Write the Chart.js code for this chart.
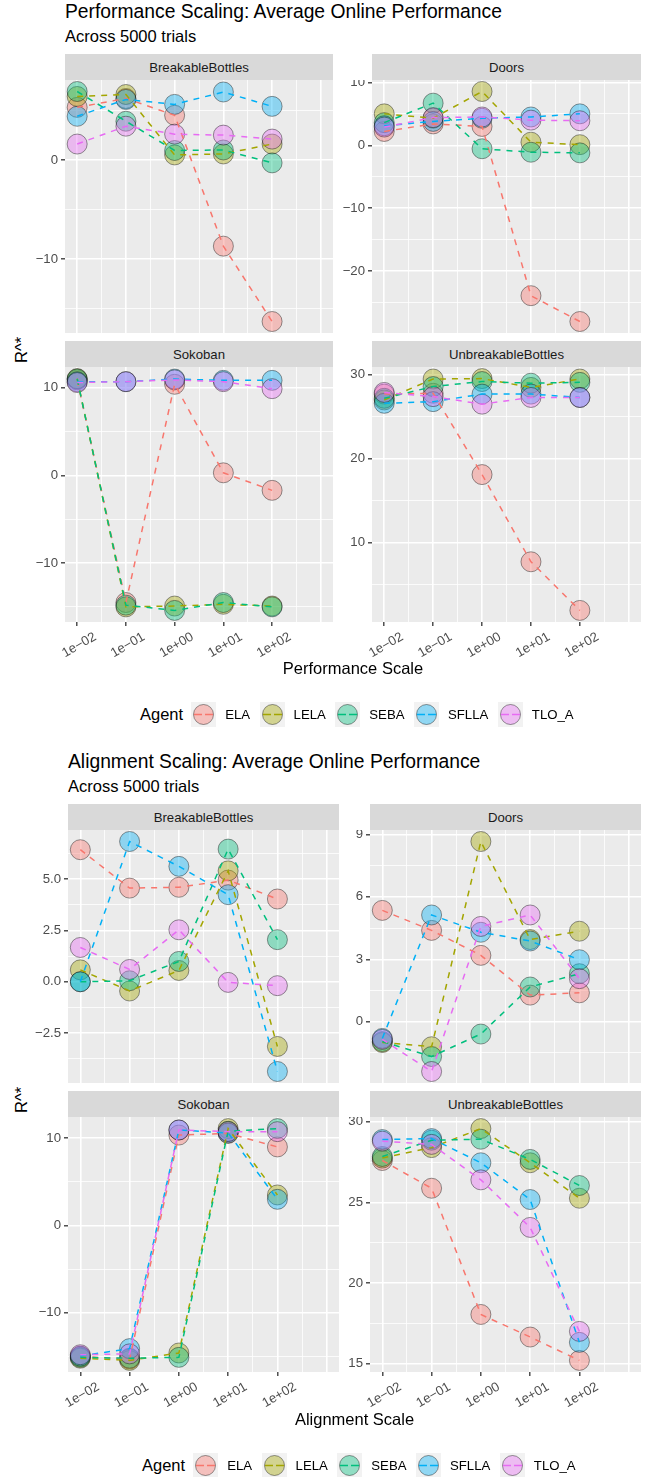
<!DOCTYPE html>
<html>
<head>
<meta charset="utf-8">
<script src="https://cdn.jsdelivr.net/npm/chart.js@4.4.0/dist/chart.umd.min.js"></script>
<style>
  html, body { margin: 0; padding: 0; background: #ffffff; }
  #page { position: relative; width: 649px; height: 1477px; overflow: hidden;
          font-family: "Liberation Sans", Arial, Helvetica, sans-serif; color: #000; }
  .abs { position: absolute; white-space: nowrap; }
  .title { font-size: 19.3px; line-height: 1; }
  .subtitle { font-size: 16.5px; line-height: 1; }
  .strip { background: #D9D9D9; color: #1A1A1A; font-size: 13.2px;
           display: flex; align-items: center; justify-content: center; }
  .axis-title { font-size: 16.5px; line-height: 1; }
  .legend { display: flex; align-items: center; height: 26px; }
  .legend .lt { font-size: 16.5px; margin-right: 8px; }
  .legend .lk { width: 25px; height: 25px; margin-right: 9px; display: block; }
  .legend .ll { font-size: 13.2px; margin-right: 9.5px; }
  canvas { position: absolute; }
</style>
</head>
<body>
<div id="page"></div>
<script>
// ---- data -------------------------------------------------------------
const agents = ['ELA', 'LELA', 'SEBA', 'SFLLA', 'TLO_A'];
const environments = ['BreakableBottles', 'Doors', 'Sokoban', 'UnbreakableBottles'];
const scaleValues = [0.01, 0.1, 1, 10, 100];
const xBreaks = [0.01, 0.1, 1, 10, 100, 1000];
const xBreakLabels = ['1e\u221202', '1e\u221201', '1e+00', '1e+01', '1e+02', ''];

// Performance scaling, one row per agent (same order as `agents`)
const perfBreakableBottles = [
  [5.3, 6.2, 4.5, -8.7, -16.3],
  [6.4, 6.6, 0.5, 0.6, 1.6],
  [6.9, 3.9, 0.95, 1.0, -0.3],
  [4.4, 6.1, 5.6, 6.85, 5.4],
  [1.6, 3.4, 2.6, 2.5, 2.1]
];
const perfDoors = [
  [2.2, 3.4, 3.0, -23.9, -28.0],
  [5.0, 4.3, 8.55, 0.5, 0.1],
  [3.6, 6.7, -0.55, -1.1, -1.2],
  [3.1, 3.8, 4.3, 4.5, 5.0],
  [2.9, 4.4, 4.5, 4.0, 3.9]
];
const perfSokoban = [
  [10.9, -14.5, 10.4, 0.3, -1.7],
  [11.05, -15.0, -14.9, -14.7, -14.9],
  [11.0, -14.8, -15.4, -14.5, -15.0],
  [10.7, 10.7, 11.0, 10.85, 10.85],
  [10.6, 10.7, 10.9, 10.7, 9.9]
];
const perfUnbreakableBottles = [
  [27.7, 27.8, 18.1, 7.7, 1.9],
  [27.0, 29.5, 29.55, 28.5, 29.5],
  [27.2, 28.6, 29.2, 29.0, 29.1],
  [26.6, 26.8, 27.7, 27.7, 27.3],
  [27.9, 27.4, 26.5, 27.3, 27.3]
];

// Alignment scaling
const alignBreakableBottles = [
  [6.43, 4.56, 4.6, 4.95, 4.03],
  [0.58, -0.45, 0.55, 5.4, -3.15],
  [0.0, 0.05, 0.99, 6.46, 2.05],
  [0.0, 6.83, 5.62, 4.24, -4.37],
  [1.67, 0.6, 2.53, -0.03, -0.19]
];
const alignDoors = [
  [5.35, 4.39, 3.19, 1.28, 1.39],
  [-1.0, -1.2, 8.66, 3.95, 4.35],
  [-0.95, -1.67, -0.59, 1.67, 2.31],
  [-0.8, 5.13, 4.3, 3.88, 2.98],
  [-0.85, -2.39, 4.58, 5.13, 2.07]
];
const alignSokoban = [
  [-15.0, -15.3, 10.36, 10.55, 9.0],
  [-15.2, -15.45, -14.6, 11.1, 3.5],
  [-15.1, -15.2, -15.1, 10.8, 11.1],
  [-14.95, -14.1, 10.94, 10.6, 3.0],
  [-14.8, -14.7, 10.94, 10.75, 10.75]
];
const alignUnbreakableBottles = [
  [27.6, 25.88, 18.05, 16.65, 15.2],
  [27.75, 28.4, 29.58, 27.46, 25.26],
  [27.85, 28.86, 28.92, 27.67, 26.05],
  [28.9, 28.96, 27.46, 25.18, 16.32],
  [28.8, 28.6, 26.4, 23.45, 17.0]
];

// y-axis breaks and their labels, per panel
const perfYBreaks = [[-10, 0], [-20, -10, 0, 10], [-10, 0, 10], [10, 20, 30]];
const perfYLabels = [['\u221210', '0'], ['\u221220', '\u221210', '0', '10'], ['\u221210', '0', '10'], ['10', '20', '30']];
const alignYBreaks = [[-2.5, 0, 2.5, 5], [0, 3, 6, 9], [-10, 0, 10], [15, 20, 25, 30]];
const alignYLabels = [['\u22122.5', '0.0', '2.5', '5.0'], ['0', '3', '6', '9'], ['\u221210', '0', '10'], ['15', '20', '25', '30']];

// ---- styling ----------------------------------------------------------
const agentColors = ['#F8766D', '#A3A500', '#00BF7D', '#00B0F6', '#E76BF3'];
const FONT = '"Liberation Sans", Arial, Helvetica, sans-serif';
const AXW = 46;   // room left of each panel for y tick labels
const XAH = 52;   // room under bottom-row panels for x tick labels

function hexA(hex, a) {
  const n = parseInt(hex.slice(1), 16);
  return `rgba(${(n >> 16) & 255},${(n >> 8) & 255},${n & 255},${a})`;
}

const page = document.getElementById('page');

function addDiv(cls, text, css) {
  const d = document.createElement('div');
  d.className = 'abs ' + cls;
  if (text !== null) d.textContent = text;
  Object.assign(d.style, css);
  page.appendChild(d);
  return d;
}

const panelBackground = {
  id: 'panelBackground',
  beforeDraw(chart) {
    const { ctx, chartArea: a } = chart;
    ctx.save();
    ctx.fillStyle = '#EBEBEB';
    ctx.fillRect(a.left, a.top, a.right - a.left, a.bottom - a.top);
    ctx.restore();
  }
};

const lg = Math.log10;
const xLo = lg(xBreaks[0]), xHi = lg(xBreaks[xBreaks.length - 1]);
const xMin = Math.pow(10, xLo - 0.05 * (xHi - xLo));
const xMax = Math.pow(10, xHi + 0.05 * (xHi - xLo));

function xBreakIndex(v) {
  return xBreaks.findIndex(b => Math.abs(lg(b) - lg(v)) < 1e-6);
}
function xTickList() {
  const out = [];
  for (let i = 0; i < xBreaks.length; i++) {
    out.push(xBreaks[i]);
    if (i < xBreaks.length - 1) out.push(Math.pow(10, (lg(xBreaks[i]) + lg(xBreaks[i + 1])) / 2));
  }
  return out.filter(v => v >= xMin && v <= xMax).map(v => ({ value: v }));
}

function yTickList(breaks, lo, hi) {
  const step = breaks.length > 1 ? breaks[1] - breaks[0] : 10;
  const out = [];
  for (let v = breaks[0] - step; v <= breaks[breaks.length - 1] + step + 1e-9; v += step / 2) {
    const r = Math.round(v * 1e6) / 1e6;
    if (r >= lo && r <= hi) out.push({ value: r });
  }
  return out;
}

function makePanel(rect, values, yBreaks, yLabels, showX) {
  const W = rect.w + AXW, H = rect.h + (showX ? XAH : 0);
  const canvas = document.createElement('canvas');
  canvas.width = W; canvas.height = H;
  Object.assign(canvas.style, { left: (rect.x - AXW) + 'px', top: rect.y + 'px', width: W + 'px', height: H + 'px' });
  page.appendChild(canvas);

  const flat = values.flat();
  const lo = Math.min(...flat), hi = Math.max(...flat);
  const yMin = lo - 0.05 * (hi - lo), yMax = hi + 0.05 * (hi - lo);

  const isYMajor = v => yBreaks.some(b => Math.abs(b - v) < 1e-6);

  // points first, dashed lines on top (later layers are drawn over earlier ones)
  const datasets = [];
  let order = 2 * agents.length;
  agents.forEach((name, k) => {
    datasets.push({
      label: name,
      data: scaleValues.map((x, i) => ({ x, y: values[k][i] })),
      showLine: false,
      pointRadius: 10,
      pointBorderWidth: 1,
      pointBackgroundColor: hexA(agentColors[k], 0.4),
      pointBorderColor: 'rgba(0,0,0,0.4)',
      clip: 0,
      order: order--
    });
  });
  agents.forEach((name, k) => {
    datasets.push({
      label: name + ' line',
      data: scaleValues.map((x, i) => ({ x, y: values[k][i] })),
      showLine: true,
      pointRadius: 0,
      borderColor: agentColors[k],
      borderWidth: 1.5,
      borderDash: [6, 6],
      tension: 0,
      fill: false,
      clip: 0,
      order: order--
    });
  });

  new Chart(canvas, {
    type: 'line',
    data: { datasets },
    plugins: [panelBackground],
    options: {
      responsive: false,
      animation: false,
      events: [],
      layout: { padding: 0, autoPadding: false },
      plugins: { legend: { display: false }, tooltip: { enabled: false }, title: { display: false } },
      scales: {
        x: {
          type: 'logarithmic',
          min: xMin, max: xMax,
          bounds: 'data',
          border: { display: false },
          grid: {
            color: '#FFFFFF',
            lineWidth: c => (c.tick && xBreakIndex(c.tick.value) >= 0) ? 1.6 : 0.8,
            drawTicks: showX,
            tickLength: 4,
            tickWidth: 1.3,
            tickColor: c => {
              if (!c.tick) return 'rgba(0,0,0,0)';
              const i = xBreakIndex(c.tick.value);
              return (i >= 0 && xBreakLabels[i] !== '') ? '#333333' : 'rgba(0,0,0,0)';
            }
          },
          ticks: {
            display: showX,
            autoSkip: false,
            minRotation: 30, maxRotation: 30,
            padding: 3,
            labelOffset: 18,
            color: '#4D4D4D',
            font: { family: FONT, size: 13.2 },
            callback: v => { const i = xBreakIndex(v); return i >= 0 ? xBreakLabels[i] : ''; }
          },
          afterBuildTicks: axis => { axis.ticks = xTickList(); },
          afterFit: axis => {
            axis.height = showX ? XAH : 0;
            axis.paddingLeft = axis.paddingRight = axis.paddingTop = axis.paddingBottom = 0;
          }
        },
        y: {
          type: 'linear',
          min: yMin, max: yMax,
          bounds: 'data',
          border: { display: false },
          grid: {
            color: '#FFFFFF',
            lineWidth: c => (c.tick && isYMajor(c.tick.value)) ? 1.6 : 0.8,
            drawTicks: true,
            tickLength: 4,
            tickWidth: 1.3,
            tickColor: c => (c.tick && isYMajor(c.tick.value)) ? '#333333' : 'rgba(0,0,0,0)'
          },
          ticks: {
            autoSkip: false,
            padding: 3,
            color: '#4D4D4D',
            font: { family: FONT, size: 13.2 },
            callback: v => { const i = yBreaks.findIndex(b => Math.abs(b - v) < 1e-6); return i >= 0 ? yLabels[i] : ''; }
          },
          afterBuildTicks: axis => { axis.ticks = yTickList(yBreaks, yMin, yMax); },
          afterFit: axis => {
            axis.width = AXW;
            axis.paddingLeft = axis.paddingRight = axis.paddingTop = axis.paddingBottom = 0;
          }
        }
      }
    }
  });
}

function legendKey(color) {
  const ns = 'http://www.w3.org/2000/svg';
  const svg = document.createElementNS(ns, 'svg');
  svg.setAttribute('class', 'lk');
  svg.setAttribute('width', '25'); svg.setAttribute('height', '25');
  const r = document.createElementNS(ns, 'rect');
  r.setAttribute('width', '25'); r.setAttribute('height', '25'); r.setAttribute('fill', '#F2F2F2');
  const c = document.createElementNS(ns, 'circle');
  c.setAttribute('cx', '12.5'); c.setAttribute('cy', '12.5'); c.setAttribute('r', '10');
  c.setAttribute('fill', hexA(color, 0.4)); c.setAttribute('stroke', 'rgba(0,0,0,0.4)'); c.setAttribute('stroke-width', '1');
  const l = document.createElementNS(ns, 'line');
  l.setAttribute('x1', '3'); l.setAttribute('x2', '22'); l.setAttribute('y1', '12.5'); l.setAttribute('y2', '12.5');
  l.setAttribute('stroke', color); l.setAttribute('stroke-width', '1.5'); l.setAttribute('stroke-dasharray', '8,3');
  svg.append(r, c, l);
  return svg;
}

function makeLegend(left, centerY) {
  const box = addDiv('legend', null, { left: left + 'px', top: (centerY - 13) + 'px' });
  const t = document.createElement('span'); t.className = 'lt'; t.textContent = 'Agent';
  box.appendChild(t);
  agents.forEach((name, k) => {
    box.appendChild(legendKey(agentColors[k]));
    const s = document.createElement('span'); s.className = 'll'; s.textContent = name;
    box.appendChild(s);
  });
}

function makeFigure(fig) {
  addDiv('title', fig.title, { left: fig.left + 'px', top: fig.titleTop + 'px' });
  addDiv('subtitle', 'Across 5000 trials', { left: fig.left + 'px', top: fig.subTop + 'px' });
  fig.rects.forEach((rect, p) => {
    addDiv('strip', environments[p], { left: rect.x + 'px', top: (rect.y - 26) + 'px', width: rect.w + 'px', height: '26px' });
    makePanel(rect, fig.values[p], fig.yBreaks[p], fig.yLabels[p], p >= 2);
  });
  const yt = addDiv('axis-title', 'R^*', { left: '0px', top: '0px' });
  yt.style.transformOrigin = '0 0';
  yt.style.left = (fig.yTitleX - 8.25) + 'px';
  yt.style.top = (fig.yTitleY + 12) + 'px';
  yt.style.transform = 'rotate(-90deg)';
  const xt = addDiv('axis-title', fig.xTitle, { left: '0px', top: (fig.xTitleY - 8.25) + 'px', width: '0px' });
  xt.style.left = fig.xTitleX + 'px';
  xt.style.display = 'flex'; xt.style.justifyContent = 'center';
  makeLegend(fig.legendLeft, fig.legendY);
}

makeFigure({
  title: 'Performance Scaling: Average Online Performance',
  xTitle: 'Performance Scale',
  left: 65, titleTop: 2.2, subTop: 27.7,
  rects: [{ x: 65, y: 80, w: 268, h: 253 }, { x: 372, y: 80, w: 269, h: 253 },
          { x: 65, y: 367, w: 268, h: 255 }, { x: 372, y: 367, w: 269, h: 255 }],
  values: [perfBreakableBottles, perfDoors, perfSokoban, perfUnbreakableBottles],
  yBreaks: perfYBreaks, yLabels: perfYLabels,
  yTitleX: 21, yTitleY: 351, xTitleX: 353, xTitleY: 668,
  legendLeft: 140, legendY: 714
});

makeFigure({
  title: 'Alignment Scaling: Average Online Performance',
  xTitle: 'Alignment Scale',
  left: 68, titleTop: 751.8, subTop: 778,
  rects: [{ x: 68, y: 830, w: 271, h: 253 }, { x: 370, y: 830, w: 271, h: 253 },
          { x: 68, y: 1117, w: 271, h: 255 }, { x: 370, y: 1117, w: 271, h: 255 }],
  values: [alignBreakableBottles, alignDoors, alignSokoban, alignUnbreakableBottles],
  yBreaks: alignYBreaks, yLabels: alignYLabels,
  yTitleX: 21, yTitleY: 1101, xTitleX: 354.5, xTitleY: 1419,
  legendLeft: 142, legendY: 1465
});
</script>
</body>
</html>
